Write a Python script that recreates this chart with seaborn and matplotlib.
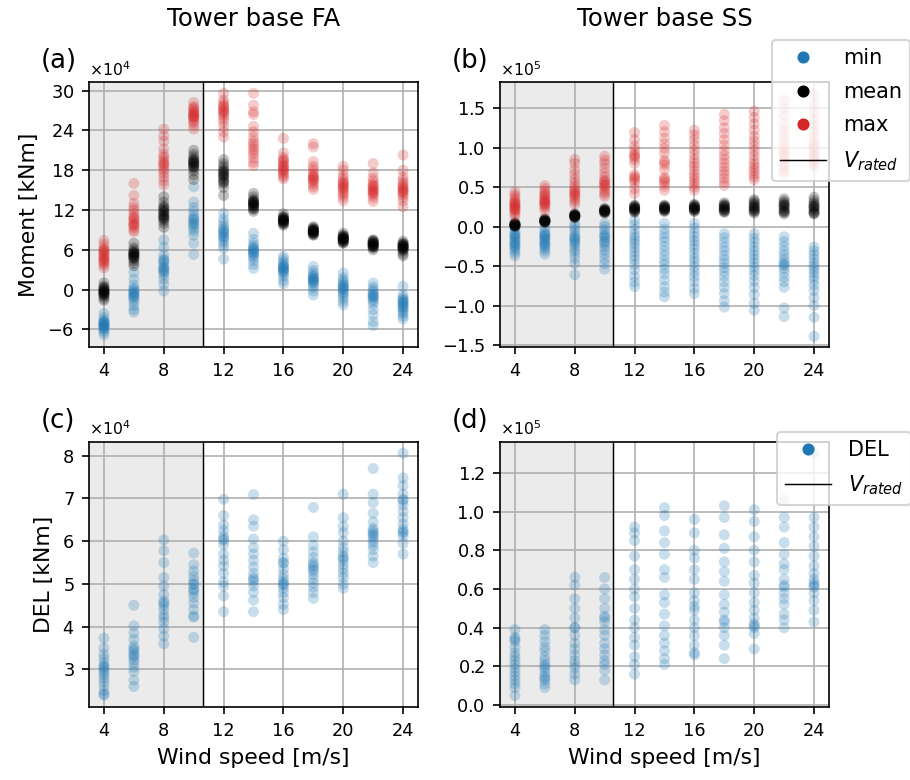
import matplotlib
matplotlib.use("Agg")
import matplotlib.pyplot as plt
from matplotlib.lines import Line2D
from matplotlib.ticker import MultipleLocator
import pandas as pd
import seaborn as sns

# Mean wind speeds of the load cases [m/s]
wind_speeds = [4, 6, 8, 10, 12, 14, 16, 18, 20, 22, 24]
v_rated = 10.59

# Tower base fore-aft moment statistics [x1e4 kNm], one list per wind speed
fa_max = [
    [7.4, 6.8, 6.3, 6.0, 5.7, 5.5, 5.2, 5.0, 4.8, 4.6, 4.4, 4.2, 4.0, 3.7, 3.3, 5.9],
    [16.0, 14.2, 13.0, 12.4, 12.0, 11.5, 11.0, 10.6, 10.3, 10.0, 9.7, 9.4, 9.0, 8.7, 10.8, 9.8],
    [24.2, 23.2, 22.4, 21.2, 20.4, 20.0, 19.6, 19.2, 18.8, 18.4, 18.0, 17.6, 17.0, 16.4, 15.8, 19.0],
    [28.2, 27.6, 27.2, 26.9, 26.6, 26.4, 26.2, 26.0, 25.8, 25.5, 25.2, 24.8, 24.2, 26.7, 26.1, 27.4],
    [29.6, 28.6, 28.2, 27.8, 27.4, 27.1, 26.8, 26.5, 26.2, 25.8, 25.3, 24.6, 23.8, 23.0, 27.6, 26.9],
    [29.6, 27.8, 26.8, 26.4, 24.6, 23.8, 23.0, 22.4, 22.0, 21.6, 21.2, 20.8, 20.4, 19.8, 19.2, 18.7],
    [22.8, 20.6, 19.9, 19.6, 19.2, 18.8, 18.5, 18.2, 17.9, 17.6, 17.3, 17.0, 16.7, 18.6, 18.0, 19.4],
    [22.0, 21.5, 19.3, 18.6, 18.2, 17.8, 17.4, 17.1, 16.8, 16.5, 16.2, 15.9, 15.5, 15.1, 17.0, 16.6],
    [18.6, 18.0, 17.2, 16.8, 16.4, 16.1, 15.8, 15.5, 15.2, 14.9, 14.6, 14.3, 13.9, 13.4, 16.0, 15.4],
    [19.0, 17.6, 16.8, 16.4, 16.0, 15.7, 15.4, 15.1, 14.8, 14.5, 14.2, 13.8, 13.3, 15.6, 15.0, 14.6],
    [20.3, 18.0, 17.0, 16.5, 16.1, 15.8, 15.5, 15.2, 14.9, 14.6, 14.3, 13.9, 13.4, 12.5, 15.3, 14.8],
]
fa_mean = [
    [1.0, 0.5, 0.2, 0.0, -0.2, -0.4, -0.6, -0.8, -1.0, -1.3, -0.3, -0.1, -0.5, 0.3, -0.7, -1.6],
    [7.0, 6.3, 6.0, 5.7, 5.5, 5.3, 5.1, 4.9, 4.7, 4.4, 4.0, 3.6, 5.2, 5.6, 4.8, 5.4],
    [14.0, 13.2, 12.6, 12.2, 11.9, 11.6, 11.3, 11.0, 10.7, 10.4, 10.0, 9.4, 11.8, 11.1, 12.4, 10.8],
    [21.0, 20.4, 20.0, 19.7, 19.4, 19.2, 19.0, 18.8, 18.6, 18.3, 17.9, 17.3, 16.6, 19.5, 19.1, 18.5],
    [19.6, 19.0, 18.6, 18.2, 17.9, 17.6, 17.3, 17.0, 16.7, 16.4, 16.0, 15.4, 14.2, 17.8, 17.2, 16.2],
    [14.5, 14.0, 13.6, 13.3, 13.1, 12.9, 12.7, 12.4, 12.1, 11.8, 13.2, 12.8, 13.4, 12.6, 13.0, 12.2],
    [11.4, 11.0, 10.8, 10.6, 10.4, 10.2, 10.0, 9.7, 10.5, 10.3, 10.7, 10.1, 10.9, 9.9, 10.5, 10.4],
    [9.5, 9.2, 9.0, 8.8, 8.6, 8.4, 8.2, 9.1, 8.9, 8.7, 8.5, 8.3, 9.3, 8.8, 8.9, 8.6],
    [8.5, 8.2, 8.0, 7.8, 7.6, 7.4, 7.2, 7.0, 7.9, 7.7, 7.5, 7.3, 8.1, 7.6, 7.8, 7.1],
    [7.5, 7.3, 7.1, 6.9, 6.7, 6.5, 6.3, 6.0, 7.2, 7.0, 6.8, 6.6, 6.4, 6.9, 6.7, 7.4],
    [7.3, 7.0, 6.8, 6.6, 6.4, 6.2, 6.0, 5.8, 5.4, 5.1, 6.9, 6.7, 6.5, 6.3, 6.1, 6.5],
]
fa_min = [
    [-3.6, -4.2, -4.6, -4.9, -5.1, -5.3, -5.5, -5.7, -5.9, -6.1, -6.4, -6.8, -5.0, -5.4, -4.8, -5.6],
    [2.6, 1.6, 0.7, 0.2, -0.2, -0.5, -0.8, -1.1, -1.4, -1.8, -2.4, -3.0, -3.4, 0.0, -0.6, -1.0],
    [7.5, 6.4, 5.2, 4.6, 4.2, 3.8, 3.4, 3.0, 2.6, 2.2, 1.6, 0.8, -0.2, 3.2, 2.8, 4.4],
    [15.5, 13.2, 12.4, 11.8, 11.2, 10.8, 10.4, 10.0, 9.6, 9.2, 8.8, 8.2, 7.0, 5.3, 9.9, 10.6],
    [11.5, 10.6, 10.1, 9.6, 9.2, 8.8, 8.4, 8.0, 7.6, 7.2, 6.7, 6.2, 4.6, 9.0, 8.5, 7.9],
    [8.5, 7.6, 7.0, 6.6, 6.3, 6.0, 5.7, 5.4, 5.1, 4.8, 4.4, 3.8, 3.2, 5.9, 5.5, 6.2],
    [5.0, 4.6, 4.2, 3.9, 3.6, 3.4, 3.2, 3.0, 2.7, 2.4, 2.0, 1.4, 0.9, 3.5, 3.1, 2.8],
    [3.5, 2.9, 2.5, 2.2, 2.0, 1.8, 1.6, 1.4, 1.2, 1.0, 0.7, 0.3, -0.2, -0.8, 1.7, 1.3],
    [2.5, 1.8, 1.4, 1.1, 0.8, 0.5, 0.3, 0.0, -0.3, -0.6, -0.9, -1.3, -1.8, -2.3, 0.6, 0.1],
    [1.0, 0.4, 0.0, -0.3, -0.6, -0.9, -1.2, -1.5, -1.8, -2.2, -3.0, -3.8, -4.8, -5.4, -0.8, -1.1],
    [0.5, -0.8, -1.2, -1.5, -1.8, -2.1, -2.4, -2.7, -3.0, -3.3, -3.6, -4.0, -4.4, -2.0, -2.6, -1.6],
]

# Tower base side-side moment statistics [x1e5 kNm]
ss_max = [
    [0.44, 0.40, 0.37, 0.34, 0.31, 0.29, 0.27, 0.25, 0.23, 0.21, 0.19, 0.16, 0.13, 0.30, 0.26, 0.22],
    [0.52, 0.48, 0.45, 0.42, 0.39, 0.36, 0.34, 0.32, 0.30, 0.28, 0.26, 0.24, 0.20, 0.40, 0.33, 0.29],
    [0.85, 0.80, 0.72, 0.66, 0.60, 0.55, 0.51, 0.47, 0.44, 0.41, 0.38, 0.35, 0.32, 0.28, 0.45, 0.40],
    [0.89, 0.84, 0.80, 0.74, 0.68, 0.63, 0.59, 0.56, 0.53, 0.50, 0.47, 0.44, 0.41, 0.38, 0.57, 0.52],
    [1.19, 1.10, 1.02, 0.97, 0.92, 0.90, 0.88, 0.85, 0.80, 0.66, 0.63, 0.61, 0.59, 0.55, 0.48, 0.42],
    [1.28, 1.20, 1.12, 1.05, 0.99, 0.93, 0.84, 0.81, 0.78, 0.72, 0.62, 0.60, 0.58, 0.55, 0.51, 0.46],
    [1.22, 1.16, 1.10, 1.03, 0.97, 0.91, 0.85, 0.80, 0.76, 0.71, 0.66, 0.62, 0.58, 0.54, 0.50, 0.46],
    [1.42, 1.34, 1.25, 1.18, 1.10, 1.03, 0.96, 0.90, 0.85, 0.80, 0.75, 0.70, 0.66, 0.61, 0.56, 0.52],
    [1.46, 1.38, 1.30, 1.22, 1.14, 1.08, 1.02, 0.96, 0.90, 0.84, 0.79, 0.75, 0.71, 0.67, 0.63, 0.59],
    [1.60, 1.50, 1.40, 1.30, 1.22, 1.15, 1.08, 1.02, 0.96, 0.90, 0.85, 0.80, 0.76, 0.71, 0.67, 0.94],
    [1.67, 1.55, 1.45, 1.36, 1.28, 1.20, 1.13, 1.06, 1.00, 0.94, 0.89, 0.84, 0.80, 0.76, 1.02, 0.92],
]
ss_mean = [
    [0.00, 0.01, 0.02, 0.02, 0.03, 0.01, 0.04, 0.02, 0.03, 0.01, 0.02, 0.05],
    [0.05, 0.06, 0.07, 0.07, 0.08, 0.06, 0.09, 0.07, 0.08, 0.06, 0.07, 0.10],
    [0.11, 0.12, 0.13, 0.14, 0.14, 0.15, 0.13, 0.16, 0.14, 0.12, 0.15, 0.13],
    [0.17, 0.18, 0.19, 0.20, 0.21, 0.22, 0.20, 0.19, 0.21, 0.23, 0.18, 0.20],
    [0.18, 0.19, 0.21, 0.22, 0.23, 0.24, 0.25, 0.26, 0.27, 0.22, 0.24, 0.20],
    [0.19, 0.20, 0.21, 0.22, 0.23, 0.24, 0.25, 0.26, 0.27, 0.23, 0.21, 0.25],
    [0.19, 0.20, 0.22, 0.23, 0.24, 0.25, 0.26, 0.27, 0.28, 0.22, 0.24, 0.21],
    [0.18, 0.20, 0.21, 0.23, 0.24, 0.26, 0.27, 0.28, 0.30, 0.22, 0.25, 0.19],
    [0.17, 0.19, 0.21, 0.23, 0.25, 0.27, 0.28, 0.30, 0.32, 0.34, 0.20, 0.24],
    [0.16, 0.18, 0.20, 0.22, 0.24, 0.26, 0.28, 0.30, 0.32, 0.35, 0.19, 0.27],
    [0.16, 0.18, 0.20, 0.22, 0.24, 0.26, 0.28, 0.30, 0.33, 0.37, 0.17, 0.25],
]
ss_min = [
    [-0.01, -0.05, -0.09, -0.12, -0.15, -0.18, -0.21, -0.24, -0.27, -0.30, -0.33, -0.37, -0.14, -0.20, -0.25, -0.10],
    [-0.01, -0.06, -0.10, -0.13, -0.16, -0.19, -0.22, -0.25, -0.28, -0.31, -0.35, -0.15, -0.20, -0.09, -0.24, -0.12],
    [0.04, 0.00, -0.04, -0.08, -0.12, -0.15, -0.18, -0.22, -0.26, -0.30, -0.34, -0.40, -0.47, -0.61, -0.14, -0.20],
    [0.04, 0.00, -0.04, -0.08, -0.11, -0.14, -0.18, -0.22, -0.26, -0.30, -0.35, -0.41, -0.47, -0.54, -0.13, -0.20],
    [0.08, 0.02, -0.04, -0.10, -0.14, -0.18, -0.22, -0.27, -0.32, -0.37, -0.42, -0.48, -0.55, -0.63, -0.70, -0.76],
    [0.04, -0.03, -0.09, -0.14, -0.19, -0.25, -0.31, -0.37, -0.43, -0.48, -0.54, -0.60, -0.68, -0.76, -0.83, -0.89],
    [0.04, -0.02, -0.08, -0.13, -0.18, -0.23, -0.28, -0.34, -0.40, -0.45, -0.51, -0.57, -0.63, -0.70, -0.78, -0.85],
    [-0.09, -0.14, -0.20, -0.26, -0.31, -0.37, -0.42, -0.47, -0.52, -0.57, -0.63, -0.70, -0.77, -0.85, -0.94, -1.02],
    [-0.09, -0.15, -0.20, -0.26, -0.31, -0.36, -0.41, -0.46, -0.51, -0.56, -0.62, -0.69, -0.77, -0.86, -0.97, -1.06],
    [-0.13, -0.19, -0.25, -0.31, -0.36, -0.41, -0.45, -0.49, -0.53, -0.58, -0.64, -0.70, -0.77, -1.03, -1.14, -0.48],
    [-0.26, -0.31, -0.36, -0.41, -0.46, -0.50, -0.54, -0.58, -0.63, -0.68, -0.74, -0.81, -0.90, -1.00, -1.15, -1.39],
]

# Damage equivalent loads, fore-aft [x1e4 kNm] and side-side [x1e5 kNm]
del_fa = [
    [3.73, 3.50, 3.35, 3.25, 3.15, 3.08, 3.00, 2.94, 2.88, 2.80, 2.72, 2.62, 2.50, 2.40, 2.42, 3.05],
    [4.50, 4.02, 3.85, 3.70, 3.55, 3.45, 3.38, 3.30, 3.22, 3.15, 3.05, 2.95, 2.75, 2.60, 3.32, 3.48],
    [6.03, 5.78, 5.50, 5.15, 4.95, 4.75, 4.60, 4.50, 4.40, 4.28, 4.20, 4.10, 3.95, 3.78, 3.60, 4.55],
    [5.72, 5.45, 5.30, 5.18, 5.08, 4.98, 4.88, 4.78, 4.68, 4.55, 4.40, 4.25, 4.22, 3.75, 4.85, 5.00],
    [6.98, 6.60, 6.38, 6.25, 6.12, 6.02, 5.92, 5.70, 5.55, 5.42, 5.25, 5.05, 4.95, 4.72, 4.35, 6.05],
    [7.09, 6.50, 6.35, 6.05, 5.85, 5.70, 5.55, 5.40, 5.25, 5.15, 5.05, 4.95, 4.80, 4.62, 4.35, 5.10],
    [6.00, 5.80, 5.60, 5.48, 5.35, 5.22, 5.12, 5.05, 4.98, 4.90, 4.80, 4.68, 4.52, 4.40, 5.50, 5.00],
    [6.79, 6.10, 5.90, 5.75, 5.62, 5.50, 5.40, 5.30, 5.22, 5.12, 5.02, 4.92, 4.80, 4.66, 5.45, 5.35],
    [7.10, 6.55, 6.35, 6.20, 6.00, 5.85, 5.75, 5.65, 5.55, 5.45, 5.35, 5.25, 5.15, 5.00, 4.90, 5.60],
    [7.70, 7.10, 6.90, 6.65, 6.45, 6.30, 6.20, 6.12, 6.05, 5.98, 5.90, 5.80, 5.65, 5.50, 6.15, 6.25],
    [8.06, 7.48, 7.30, 7.10, 6.98, 6.85, 6.70, 6.55, 6.40, 6.28, 6.20, 6.12, 5.95, 5.70, 6.22, 6.95],
]
del_ss = [
    [0.39, 0.35, 0.33, 0.30, 0.27, 0.25, 0.23, 0.21, 0.19, 0.17, 0.15, 0.13, 0.11, 0.09, 0.05, 0.34],
    [0.39, 0.36, 0.33, 0.30, 0.28, 0.25, 0.23, 0.21, 0.19, 0.17, 0.15, 0.13, 0.11, 0.09, 0.14, 0.20],
    [0.66, 0.62, 0.55, 0.50, 0.45, 0.40, 0.36, 0.32, 0.29, 0.26, 0.23, 0.21, 0.19, 0.16, 0.13, 0.40],
    [0.66, 0.60, 0.55, 0.50, 0.46, 0.43, 0.39, 0.36, 0.32, 0.29, 0.26, 0.23, 0.21, 0.18, 0.13, 0.45],
    [0.92, 0.89, 0.85, 0.77, 0.70, 0.65, 0.60, 0.56, 0.50, 0.44, 0.40, 0.35, 0.31, 0.25, 0.21, 0.16],
    [1.02, 0.98, 0.90, 0.84, 0.78, 0.70, 0.66, 0.57, 0.53, 0.47, 0.41, 0.36, 0.32, 0.28, 0.24, 0.21],
    [0.96, 0.89, 0.80, 0.76, 0.70, 0.65, 0.58, 0.54, 0.49, 0.44, 0.40, 0.36, 0.31, 0.27, 0.26, 0.51],
    [1.03, 0.97, 0.88, 0.81, 0.74, 0.69, 0.64, 0.57, 0.52, 0.48, 0.43, 0.40, 0.36, 0.31, 0.24, 0.44],
    [1.01, 0.95, 0.87, 0.80, 0.74, 0.67, 0.63, 0.58, 0.53, 0.49, 0.45, 0.42, 0.40, 0.37, 0.29, 0.41],
    [1.06, 0.97, 0.92, 0.84, 0.78, 0.73, 0.70, 0.65, 0.61, 0.58, 0.55, 0.52, 0.47, 0.44, 0.40, 0.62],
    [1.30, 0.97, 0.92, 0.87, 0.82, 0.77, 0.72, 0.68, 0.65, 0.63, 0.61, 0.58, 0.54, 0.49, 0.43, 0.62],
]

colors = {"min": "#1f77b4", "mean": "black", "max": "#d62728", "DEL": "#1f77b4"}


def long_frame(series, scale):
    rows = []
    for stat, per_ws in series.items():
        for ws, vals in zip(wind_speeds, per_ws):
            for v in vals:
                rows.append({"ws": ws, "value": v * scale, "stat": stat})
    return pd.DataFrame(rows)


frames = {
    "a": long_frame({"min": fa_min, "mean": fa_mean, "max": fa_max}, 1e4),
    "b": long_frame({"min": ss_min, "mean": ss_mean, "max": ss_max}, 1e5),
    "c": long_frame({"DEL": del_fa}, 1e4),
    "d": long_frame({"DEL": del_ss}, 1e5),
}
ylims = {"a": (-8.7e4, 31.3e4), "b": (-1.53e5, 1.83e5),
         "c": (2.12e4, 8.33e4), "d": (-0.01e5, 1.362e5)}
ysteps = {"a": 6e4, "b": 0.5e5, "c": 1e4, "d": 0.2e5}
yexp = {"a": 4, "b": 5, "c": 4, "d": 5}

fig, axes = plt.subplots(2, 2, figsize=(910 / 150, 780 / 150), dpi=150)
fig.subplots_adjust(left=0.0978, right=0.911, bottom=0.0936, top=0.8949,
                    wspace=0.249, hspace=0.355)

for ax, key in zip(axes.flat, "abcd"):
    df = frames[key]
    ax.axvspan(3, v_rated, color="#ebebeb", zorder=0, lw=0)
    sns.scatterplot(data=df, x="ws", y="value", hue="stat", palette=colors,
                    s=28, alpha=0.24, linewidth=0, legend=False, ax=ax, zorder=3)
    ax.axvline(v_rated, color="black", lw=0.7, zorder=4)
    ax.set_xlim(3, 25)
    ax.set_ylim(*ylims[key])
    ax.xaxis.set_major_locator(MultipleLocator(4))
    ax.yaxis.set_major_locator(MultipleLocator(ysteps[key]))
    ax.ticklabel_format(axis="y", style="sci",
                        scilimits=(yexp[key], yexp[key]), useMathText=True)
    ax.yaxis.get_offset_text().set_fontsize(7.5)
    ax.tick_params(labelsize=8.5)
    ax.grid(True, color="#b0b0b0", lw=0.8)
    ax.set_axisbelow(True)
    ax.set_xlabel("")
    ax.set_ylabel("")
    ax.text(-0.147, 1.053, f"({key})", transform=ax.transAxes,
            fontsize=12.5, ha="left", va="baseline")

axes[0, 0].set_title("Tower base FA", fontsize=11.7, pad=27)
axes[0, 1].set_title("Tower base SS", fontsize=11.7, pad=27)
axes[0, 0].set_ylabel("Moment [kNm]", fontsize=10.5)
axes[1, 0].set_ylabel("DEL [kNm]", fontsize=10.5)
axes[1, 0].set_xlabel("Wind speed [m/s]", fontsize=10.5)
axes[1, 1].set_xlabel("Wind speed [m/s]", fontsize=10.5)

vline_handle = Line2D([], [], color="black", lw=0.7)
stat_handles = [Line2D([], [], marker="o", ls="", color=colors[s], markersize=4.8)
                for s in ("min", "mean", "max")]
axes[0, 1].legend(stat_handles + [vline_handle], ["min", "mean", "max", "$V_{rated}$"],
                  loc="upper left", bbox_to_anchor=(0.827, 1.158), fontsize=10,
                  handlelength=2.2, labelspacing=0.65, borderaxespad=0)
axes[1, 1].legend([Line2D([], [], marker="o", ls="", color=colors["DEL"], markersize=4.8),
                   vline_handle], ["DEL", "$V_{rated}$"],
                  loc="upper left", bbox_to_anchor=(0.842, 1.038), fontsize=10,
                  handlelength=2.2, labelspacing=0.65, borderaxespad=0)

fig.savefig("out.png", dpi=150)
